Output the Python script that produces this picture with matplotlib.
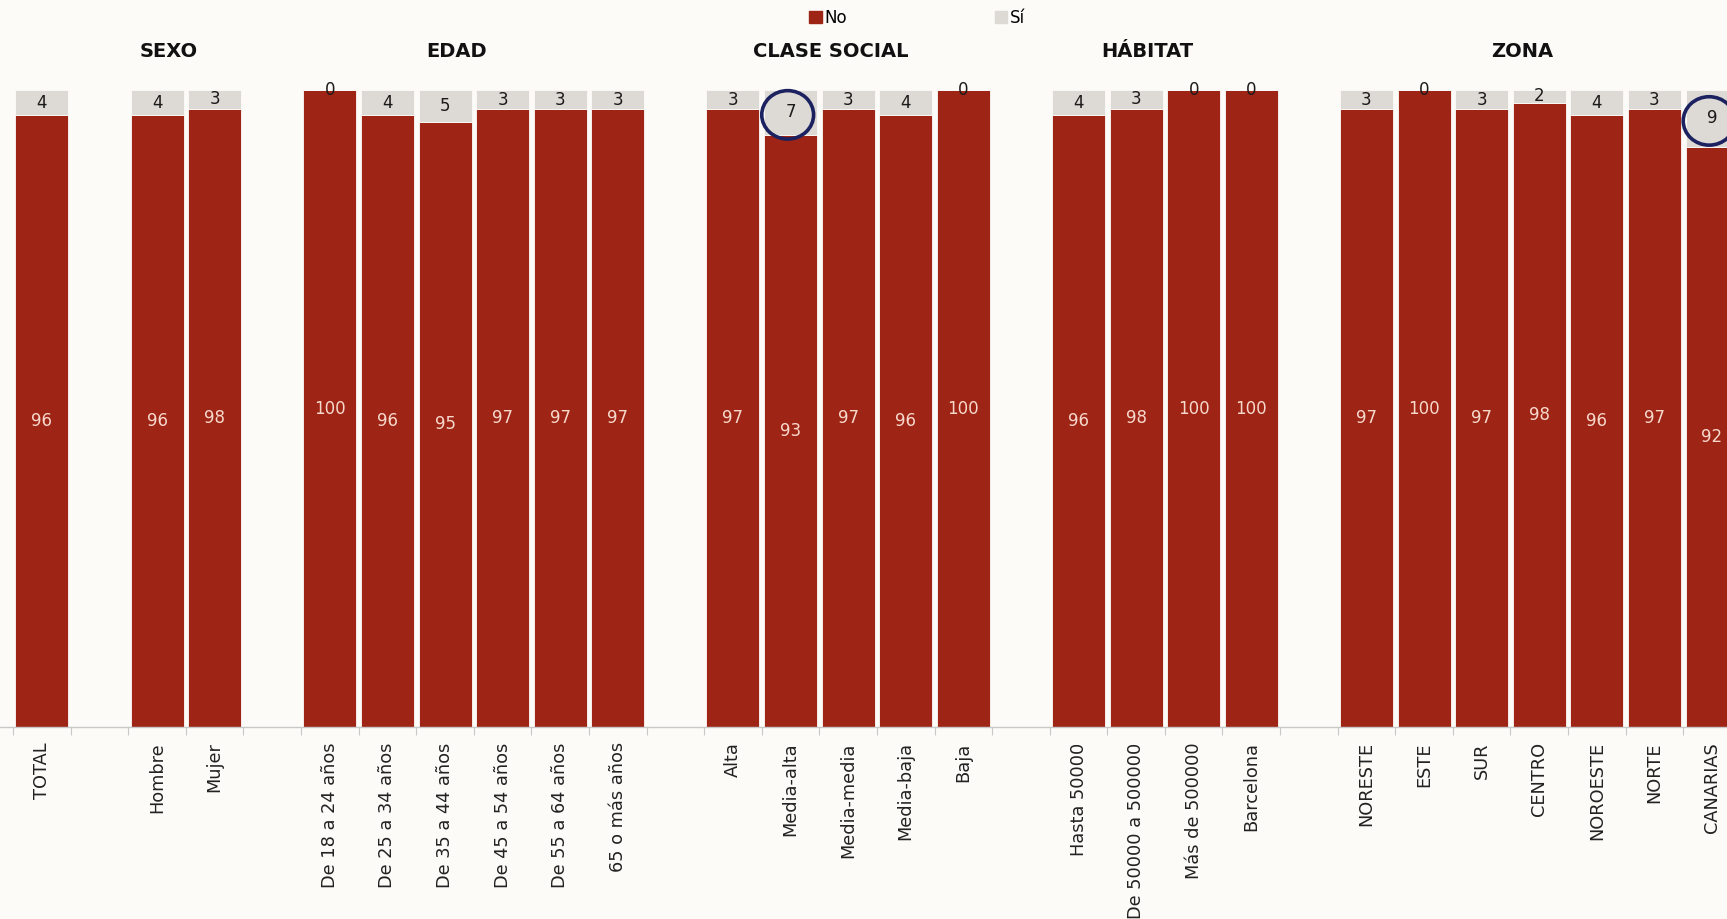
import matplotlib
matplotlib.use("Agg")
import matplotlib.pyplot as plt
from matplotlib.patches import Ellipse, Patch
import numpy as np

categories = [
    "TOTAL",
    "Hombre", "Mujer",
    "De 18 a 24 años", "De 25 a 34 años", "De 35 a 44 años",
    "De 45 a 54 años", "De 55 a 64 años", "65 o más años",
    "Alta", "Media-alta", "Media-media", "Media-baja", "Baja",
    "Hasta 50000", "De 50000 a 500000", "Más de 500000", "Barcelona",
    "NORESTE", "ESTE", "SUR", "CENTRO", "NOROESTE", "NORTE", "CANARIAS",
]
no_vals = [96, 96, 98, 100, 96, 95, 97, 97, 97, 97, 93, 97, 96, 100,
           96, 98, 100, 100, 97, 100, 97, 98, 96, 97, 92]
si_vals = [4, 4, 3, 0, 4, 5, 3, 3, 3, 3, 7, 3, 4, 0,
           4, 3, 0, 0, 3, 0, 3, 2, 4, 3, 9]
group_names = ["", "SEXO", "EDAD", "CLASE SOCIAL", "HÁBITAT", "ZONA"]
group_sizes = [1, 2, 6, 5, 4, 7]
highlighted = ["Media-alta", "CANARIAS"]

RED = "#9e2415"
GREY = "#ddd9d4"
NAVY = "#1c2160"
BG = "#fcfbf8"

# slot positions: one empty slot after every group
pos = []
group_centres = []
slot = 0
for size in group_sizes:
    group_centres.append(slot + (size - 1) / 2)
    pos.extend(range(slot, slot + size))
    slot += size + 1
pos = np.array(pos, dtype=float)

no = np.array(no_vals, dtype=float)
si = np.array(si_vals, dtype=float)
tot = no + si
no_pct = no / tot * 100   # 100% stacked, like the original
si_pct = si / tot * 100

fig = plt.figure(figsize=(17.27, 9.19), dpi=100, facecolor=BG)
ax = fig.add_axes([0, 1 - 727 / 919, 1, (727 - 90) / 919])
ax.set_facecolor(BG)

ax.bar(pos, no_pct, width=0.92, color=RED, edgecolor=BG, linewidth=0.6, zorder=2)
ax.bar(pos, si_pct, bottom=no_pct, width=0.92, color=GREY, edgecolor=BG,
       linewidth=0.6, zorder=2)

for x, n, s, nv, sv in zip(pos, no_pct, si_pct, no_vals, si_vals):
    ax.text(x, n / 2, f"{nv}", ha="center", va="center", fontsize=12,
            color="#f7d9cc", zorder=3)
    ax.text(x, n + s / 2, f"{sv}", ha="center", va="center", fontsize=12,
            color="#1a1a1a", zorder=3, clip_on=False)

# navy rings drawn by hand on the original
for name in highlighted:
    i = categories.index(name)
    ell = Ellipse((pos[i] - 0.05, no_pct[i] + si_pct[i] / 2 - 0.4), width=0.9,
                  height=7.6, fill=False, edgecolor=NAVY, linewidth=2.6,
                  zorder=4, clip_on=False)
    ax.add_patch(ell)

for name, c in zip(group_names, group_centres):
    if name:
        ax.text(c - 0.3, 106.0, name, ha="center", va="center", fontsize=14,
                fontweight="bold", color="#111111", clip_on=False)

ax.set_yticks([])
ax.set_xticks(pos)
ax.set_xticklabels(categories, rotation=90, fontsize=12.8, color="#222222")
ax.tick_params(axis="x", which="major", length=0, pad=11)
ax.set_xticks(np.arange(-0.5, 30, 1), minor=True)
ax.tick_params(axis="x", which="minor", length=6, color="#c8c8c8", width=0.8)
ax.set_xlim(-0.727, 29.26)
ax.set_ylim(0, 100)
for side in ["top", "left", "right"]:
    ax.spines[side].set_visible(False)
ax.spines["bottom"].set_color("#c8c8c8")
ax.spines["bottom"].set_linewidth(1.0)

handles = [Patch(facecolor=RED, edgecolor=RED), Patch(facecolor=GREY, edgecolor=GREY)]
fig.legend(handles, ["No", "Sí"], loc="center", bbox_to_anchor=(0.531, 1 - 18 / 919),
           ncol=2, frameon=False, fontsize=12, handlelength=0.75, handleheight=0.75,
           handletextpad=0.15, columnspacing=8.85)

fig.savefig("out.png", dpi=100, facecolor=BG)
